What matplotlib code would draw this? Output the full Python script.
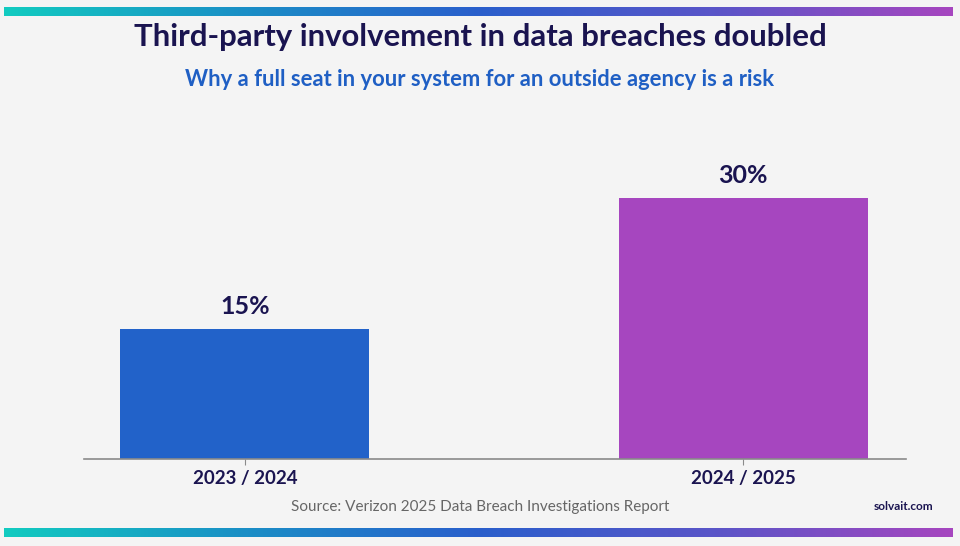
import numpy as np
import matplotlib
matplotlib.use("Agg")
import matplotlib.pyplot as plt
from matplotlib.colors import LinearSegmentedColormap

categories = ["2023 / 2024", "2024 / 2025"]
values = [15, 30]
value_labels = ["15%", "30%"]
bar_colors = ["#2262c9", "#a646bf"]

title = "Third-party involvement in data breaches doubled"
subtitle = "Why a full seat in your system for an outside agency is a risk"
source = "Source: Verizon 2025 Data Breach Investigations Report"
brand = "solvait.com"

BG = "#f4f4f4"
NAVY = "#1a1450"
FONT = ["Lato", "DejaVu Sans"]

fig = plt.figure(figsize=(9.6, 5.46), dpi=100, facecolor=BG)

# gradient bands
cmap = LinearSegmentedColormap.from_list("g", ["#12cbc0", "#1a8fc6", "#2a5fcc", "#5a55c8", "#a646bf"])
grad = np.linspace(0, 1, 512).reshape(1, -1)
for y0, y1 in [(7, 16), (528, 537)]:
    gax = fig.add_axes([4 / 960, 1 - y1 / 546, 949 / 960, (y1 - y0) / 546])
    gax.imshow(grad, aspect="auto", cmap=cmap)
    gax.axis("off")

ax = fig.add_axes([84 / 960, 87 / 546, 822 / 960, 359 / 546])
ax.set_facecolor(BG)
x = np.arange(len(categories))
bars = ax.bar(x, values, width=0.5, color=bar_colors, zorder=2)
ax.set_xlim(-0.323, 1.327)
ax.set_ylim(0, 41.3)
for spine in ["top", "right", "left"]:
    ax.spines[spine].set_visible(False)
ax.spines["bottom"].set_color("#8a8a8a")
ax.spines["bottom"].set_linewidth(1.2)
ax.set_yticks([])
ax.set_xticks(x)
ax.set_xticklabels(categories, fontfamily=FONT, fontweight="bold", fontsize=13.5, color=NAVY)
ax.tick_params(axis="x", length=4, color="#8a8a8a", pad=4)
for xi, v, lab in zip(x, values, value_labels):
    ax.annotate(lab, (xi, v), xytext=(0, 8), textcoords="offset points",
                ha="center", va="bottom", fontfamily=FONT, fontweight="bold",
                fontsize=18, color=NAVY)

fig.text(0.5, 1 - 37 / 546, title, ha="center", va="center", fontfamily=FONT,
         fontweight="bold", fontsize=22.4, color=NAVY)
fig.text(0.5, 1 - 79 / 546, subtitle, ha="center", va="center", fontfamily=FONT,
         fontweight="bold", fontsize=15.8, color="#1f5fc4")
fig.text(480 / 960, 1 - 507 / 546, source, ha="center", va="center", fontfamily=FONT,
         fontsize=11, color="#666666")
fig.text(903 / 960, 1 - 506 / 546, brand, ha="center", va="center", fontfamily=FONT,
         fontweight="bold", fontsize=8.5, color=NAVY)

fig.savefig("out.png", dpi=100, facecolor=BG)
